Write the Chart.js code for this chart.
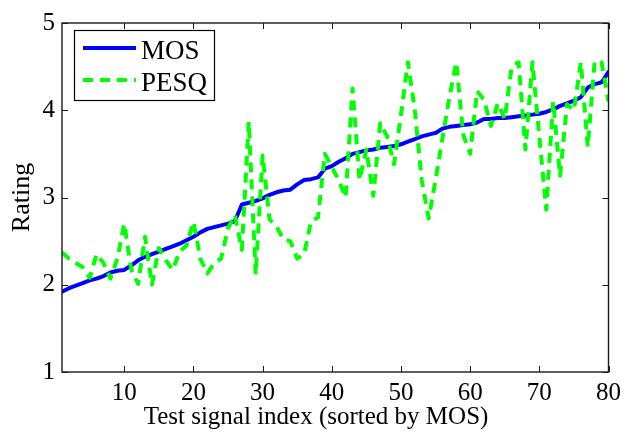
<!DOCTYPE html>
<html><head><meta charset="utf-8">
<script src="https://cdn.jsdelivr.net/npm/chart.js@4.4.1/dist/chart.umd.min.js"></script>
<style>html,body{margin:0;padding:0;background:#fff;}#wrap{width:627px;height:432px;}</style>
</head><body><div id="wrap"><canvas id="c" width="627" height="432"></canvas></div>
<script>
const signalIndex = [1,2,3,4,5,6,7,8,9,10,11,12,13,14,15,16,17,18,19,20,21,22,23,24,25,26,27,28,29,30,31,32,33,34,35,36,37,38,39,40,41,42,43,44,45,46,47,48,49,50,51,52,53,54,55,56,57,58,59,60,61,62,63,64,65,66,67,68,69,70,71,72,73,74,75,76,77,78,79,80];
const mosValues = [1.92,1.96,1.99,2.02,2.05,2.07,2.10,2.14,2.16,2.17,
  2.22,2.28,2.32,2.35,2.38,2.41,2.44,2.47,2.51,2.55,
  2.60,2.64,2.66,2.68,2.70,2.73,2.92,2.94,2.96,2.99,
  3.03,3.06,3.08,3.09,3.15,3.20,3.21,3.23,3.33,3.36,
  3.41,3.45,3.50,3.52,3.54,3.55,3.57,3.58,3.59,3.61,
  3.64,3.67,3.70,3.72,3.74,3.79,3.81,3.82,3.83,3.84,
  3.86,3.90,3.90,3.91,3.91,3.92,3.93,3.94,3.95,3.96,
  3.98,4.01,4.05,4.08,4.11,4.15,4.26,4.30,4.32,4.44];
const pesqValues = [2.37,2.30,2.25,2.20,2.08,2.35,2.25,2.07,2.30,2.70,
  2.18,2.01,2.55,2.00,2.42,2.28,2.17,2.38,2.45,2.72,
  2.30,2.13,2.25,2.30,2.65,2.80,2.40,3.87,2.12,3.48,
  2.75,2.67,2.52,2.50,2.30,2.35,2.73,2.77,3.50,3.35,
  3.20,3.00,4.25,3.20,3.55,3.02,3.85,3.70,3.38,3.95,
  4.55,4.00,3.20,2.76,3.20,3.68,4.15,4.55,3.72,3.50,
  4.22,4.12,3.82,4.08,3.90,4.50,4.55,3.55,4.55,3.70,
  2.86,4.10,3.25,4.07,4.00,4.55,3.58,4.56,4.55,4.10];
const xTickValues = [10,20,30,40,50,60,70,80];
const yTickValues = [1,2,3,4,5];
const seriesNames = ['MOS','PESQ'];
const xTitle = 'Test signal index (sorted by MOS)';
const yTitle = 'Rating';

const FONT = "'Liberation Serif','Times New Roman',serif";

const framePlugin = {
  id: 'frame',
  afterDraw(chart) {
    const {ctx, chartArea: a, scales} = chart;
    ctx.save();
    ctx.strokeStyle = '#1a1a1a';
    ctx.lineWidth = 1.4;
    ctx.strokeRect(a.left, a.top, a.right - a.left, a.bottom - a.top);
    const tl = 6;
    ctx.beginPath();
    scales.x.ticks.forEach(t => {
      const px = Math.round(scales.x.getPixelForValue(t.value)) + 0.5;
      ctx.moveTo(px, a.bottom); ctx.lineTo(px, a.bottom - tl);
      ctx.moveTo(px, a.top); ctx.lineTo(px, a.top + tl);
    });
    scales.y.ticks.forEach(t => {
      const py = Math.round(scales.y.getPixelForValue(t.value)) + 0.5;
      ctx.moveTo(a.left, py); ctx.lineTo(a.left + tl, py);
      ctx.moveTo(a.right, py); ctx.lineTo(a.right - tl, py);
    });
    ctx.lineWidth = 1;
    ctx.stroke();
    // x title
    ctx.fillStyle = '#000';
    ctx.font = '25px ' + FONT;
    ctx.textAlign = 'center';
    ctx.textBaseline = 'alphabetic';
    ctx.fillText(xTitle, 316, 424);
    // legend
    const bx = 74, by = 30, bw = 140, bh = 70;
    ctx.fillStyle = '#fff';
    ctx.fillRect(bx, by, bw, bh);
    ctx.strokeStyle = '#000';
    ctx.lineWidth = 1.2;
    ctx.strokeRect(bx + 0.5, by + 0.5, bw, bh);
    const rows = [48, 80];
    chart.data.datasets.forEach((ds, i) => {
      const y = rows[i];
      ctx.beginPath();
      ctx.setLineDash(ds.borderDash || []);
      ctx.strokeStyle = ds.borderColor;
      ctx.lineWidth = ds.borderWidth;
      ctx.moveTo(83, y); ctx.lineTo(136, y);
      ctx.stroke();
      ctx.setLineDash([]);
      ctx.fillStyle = '#000';
      ctx.font = '27px ' + FONT;
      ctx.textAlign = 'left';
      ctx.textBaseline = 'alphabetic';
      ctx.fillText(ds.label, 141, y + 11);
    });
    ctx.restore();
  }
};

new Chart(document.getElementById('c'), {
  type: 'line',
  data: {
    datasets: [
      { label: seriesNames[0], data: signalIndex.map((x, i) => ({x, y: mosValues[i]})),
        borderColor: '#0000ff', borderWidth: 4, borderJoinStyle: 'round', borderCapStyle: 'round',
        pointRadius: 0, tension: 0, fill: false, order: 1 },
      { label: seriesNames[1], data: signalIndex.map((x, i) => ({x, y: pesqValues[i]})),
        borderColor: '#00ff00', borderWidth: 4, borderDash: [10, 7], borderJoinStyle: 'round', borderCapStyle: 'butt',
        pointRadius: 0, tension: 0, fill: false, order: 0 }
    ]
  },
  options: {
    responsive: false,
    animation: false,
    devicePixelRatio: 1,
    layout: { padding: { top: 23, right: 16, left: 0, bottom: 0 } },
    plugins: { legend: { display: false }, tooltip: { enabled: false } },
    scales: {
      x: {
        type: 'linear', min: 1, max: 80,
        afterBuildTicks: s => { s.ticks = xTickValues.map(v => ({value: v})); },
        afterFit: s => { s.height = 60; },
        grid: { display: false, drawTicks: false },
        border: { display: false },
        ticks: { color: '#000', font: { family: FONT, size: 25 }, padding: 6, maxRotation: 0, autoSkip: false }
      },
      y: {
        type: 'linear', min: 1, max: 5,
        afterBuildTicks: s => { s.ticks = yTickValues.map(v => ({value: v})); },
        afterFit: s => { s.width = 62; },
        grid: { display: false, drawTicks: false },
        border: { display: false },
        ticks: { color: '#000', font: { family: FONT, size: 25 }, padding: 7 },
        title: { display: true, text: yTitle, color: '#000', font: { family: FONT, size: 26 }, padding: { top: 7, bottom: 0 } }
      }
    }
  },
  plugins: [framePlugin]
});
</script></body></html>
